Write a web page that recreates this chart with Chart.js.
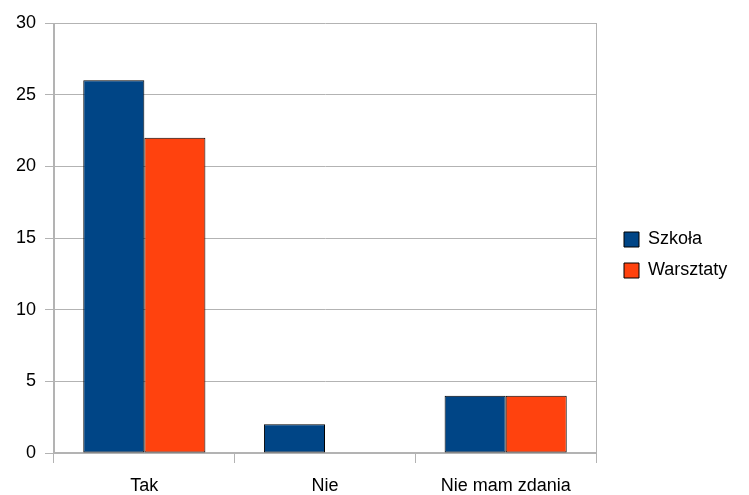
<!DOCTYPE html>
<html>
<head>
<meta charset="utf-8">
<script src="https://cdn.jsdelivr.net/npm/chart.js@4"></script>
<style>
  html, body { margin: 0; padding: 0; background: #fff; }
  #wrap { width: 749px; height: 495px; }
</style>
</head>
<body>
<div id="wrap"><canvas id="c" width="749" height="495"></canvas></div>
<script>
const categories = ["Tak", "Nie", "Nie mam zdania"];
const seriesNames = ["Szkoła", "Warsztaty"];
const szkola = [26, 2, 4];
const warsztaty = [22, 0, 4];
const yTicks = [0, 5, 10, 15, 20, 25, 30];

const GRID = '#b3b3b3';
Chart.defaults.font.family = '"Liberation Sans", Arial, sans-serif';
Chart.defaults.font.size = 18;
Chart.defaults.color = '#000';

const legendTweak = {
  id: 'legendTweak',
  beforeUpdate(chart) {
    const lg = chart.legend;
    if (lg && !lg._tweaked) {
      lg._tweaked = true;
      const origFit = lg.fit;
      lg.fit = function () { origFit.call(this); if (!this.isHorizontal()) this.width = 138; };
      const origDraw = lg.draw;
      lg.draw = function () {
        const ctx = this.ctx;
        ctx.save(); ctx.translate(0, -4);
        origDraw.call(this);
        ctx.restore();
      };
    }
  }
};

new Chart(document.getElementById('c'), {
  type: 'bar',
  data: {
    labels: categories,
    datasets: [
      { label: seriesNames[0], data: szkola, backgroundColor: '#004586', borderColor: '#000', borderWidth: 1, borderSkipped: false },
      { label: seriesNames[1], data: warsztaty, backgroundColor: '#ff420e', borderColor: '#000', borderWidth: 1, borderSkipped: false }
    ]
  },
  options: {
    responsive: false,
    animation: false,
    events: [],
    layout: { padding: { top: 23, left: 0, right: 0, bottom: 0 } },
    datasets: { bar: { categoryPercentage: 0.676, barPercentage: 1 } },
    plugins: {
      tooltip: { enabled: false },
      legend: {
        position: 'right',
        labels: { boxWidth: 15, boxHeight: 15, padding: 13, color: '#000', font: { size: 18 } }
      }
    },
    scales: {
      x: {
        offset: true,
        grid: {
          offset: true,
          drawOnChartArea: true,
          tickLength: 10,
          color: (ctx) => (ctx.type === 'scale' || ctx.index === 0) ? GRID : 'rgba(0,0,0,0)',
          tickColor: GRID
        },
        border: { color: GRID, width: 2 },
        ticks: { padding: 12, color: '#000', font: { size: 18 } },
        afterFit(scale) { scale.height = 42; }
      },
      y: {
        min: 0, max: 30,
        afterBuildTicks(scale) { scale.ticks = yTicks.map(v => ({ value: v })); },
        grid: { color: GRID, tickLength: 9, tickColor: GRID },
        border: { color: GRID },
        ticks: { padding: 9, color: '#000', font: { size: 18 } },
        afterFit(scale) { scale.width = 54; }
      },
      y2: {
        position: 'right',
        min: 0, max: 30,
        grid: { drawOnChartArea: false, drawTicks: false },
        border: { color: GRID },
        ticks: { display: false },
        afterFit(scale) { scale.width = 15; }
      }
    }
  },
  plugins: [legendTweak]
});
</script>
</body>
</html>
